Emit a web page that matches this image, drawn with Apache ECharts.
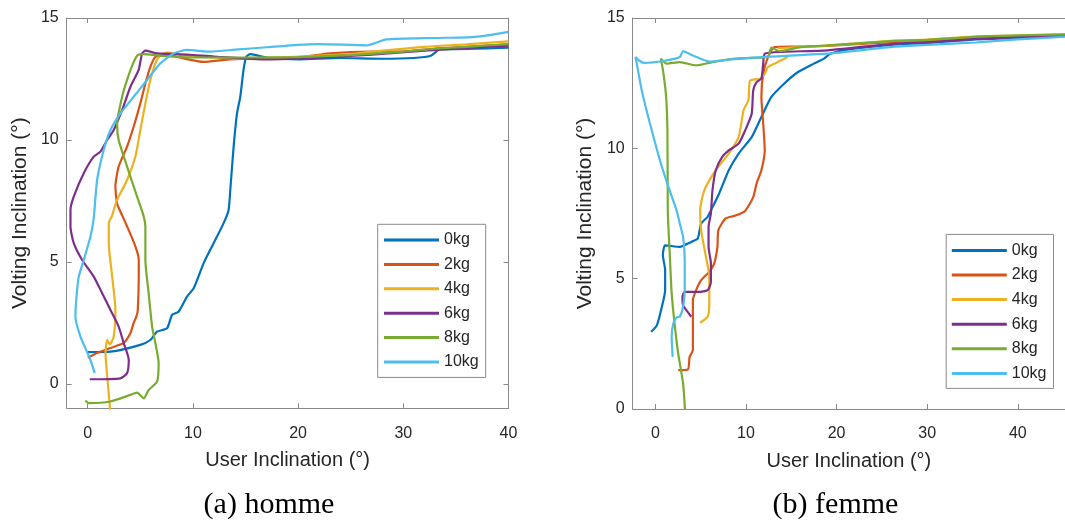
<!DOCTYPE html>
<html>
<head>
<meta charset="utf-8">
<script src="https://cdn.jsdelivr.net/npm/echarts@6/dist/echarts.min.js"></script>
<style>html,body{margin:0;padding:0;background:#fff}#c{width:1065px;height:520px}</style>
</head>
<body>
<div id="c"></div>
<script>
// ---- data ----
const names = ['0kg','2kg','4kg','6kg','8kg','10kg'];
const colors = ['#0072BD','#D95319','#EDB120','#7E2F8E','#77AC30','#4DBEEE'];
const xTicks = [0,10,20,30,40];
const yTicks = [0,5,10,15];
const captions = ['(a) homme','(b) femme'];

// (a) homme : [user inclination, volting inclination]
const homme0kg = [[-0.06,1.3],[2.16,1.32],[5.0,1.6],[5.95,1.8],[6.59,2.14],[7.54,2.28],[8.02,2.83],[8.64,2.96],[9.44,3.58],[10.07,3.92],[11.02,4.95],[11.97,5.77],[12.92,6.59],[13.39,7.13],[13.55,7.95],[13.87,9.73],[14.19,11.09],[14.5,11.77],[14.81,12.87],[15.07,13.41],[15.45,13.52],[17,13.38],[20,13.3],[24,13.36],[28,13.33],[31,13.36],[32.6,13.45],[33.5,13.72],[36,13.73],[40,13.78]];
const homme2kg = [[0.01,1.07],[0.89,1.27],[2.14,1.47],[3.42,1.68],[4.06,2.09],[4.37,2.5],[4.63,2.77],[4.76,3.04],[4.85,4.41],[4.85,5.09],[4.53,5.64],[3.74,6.46],[3.04,7.13],[2.79,7.4],[2.63,8.09],[2.94,8.91],[3.74,9.73],[4.37,10.55],[5.0,11.5],[5.48,12.32],[5.95,13.0],[6.43,13.41],[7.5,13.5],[9,13.35],[11,13.2],[13,13.28],[15,13.33],[20,13.38],[23,13.55],[27,13.62],[30,13.62],[33,13.75],[36,13.82],[40,13.92]];
const homme4kg = [[2.14,-1.1],[1.85,0.31],[1.69,1.27],[1.85,1.8],[2.1,1.62],[2.47,1.95],[2.63,3.04],[2.32,4.41],[2.0,5.78],[2.0,6.6],[2.32,6.9],[2.47,7.13],[2.79,7.54],[3.74,8.36],[4.53,9.32],[5.0,10.41],[5.48,11.5],[5.95,12.46],[6.43,13.14],[6.9,13.48],[7.54,13.58],[9,13.48],[12,13.38],[15,13.33],[20,13.42],[25,13.52],[28,13.66],[32,13.82],[36,13.92],[40,14.04]];
const homme6kg = [[0.19,0.19],[3.1,0.23],[3.74,0.44],[3.9,0.98],[3.42,1.67],[2.94,2.35],[2.16,3.03],[1.37,3.72],[0.57,4.4],[-0.53,5.08],[-1.33,5.77],[-1.64,6.45],[-1.64,7.13],[-1.33,7.68],[-0.38,8.64],[0.57,9.32],[1.21,9.52],[1.84,10.0],[2.47,10.41],[3.27,11.23],[4.06,12.18],[4.84,12.87],[5.17,13.55],[5.48,13.66],[6.59,13.55],[9.5,13.5],[12,13.42],[17,13.3],[22,13.37],[27,13.5],[32,13.66],[36,13.77],[40,13.87]];
const homme8kg = [[-0.22,-0.68],[0.1,-0.79],[2.16,-0.72],[4.05,-0.45],[4.69,-0.36],[5.32,-0.59],[5.79,-0.25],[6.59,0.09],[6.74,0.85],[6.43,1.67],[6.12,2.35],[5.79,3.72],[5.48,5.08],[5.48,6.45],[5.3,6.9],[4.69,7.68],[3.74,8.91],[2.94,10.0],[2.79,10.68],[3.27,11.77],[3.74,12.46],[4.31,13.14],[4.75,13.48],[5.32,13.52],[7,13.45],[10,13.38],[15,13.38],[20,13.4],[25,13.48],[30,13.62],[33,13.74],[36,13.82],[40,13.93]];
const homme10kg = [[0.66,0.44],[0.26,0.98],[-0.69,1.94],[-1.17,2.76],[-1.07,3.58],[-0.85,4.4],[-0.38,5.08],[0.26,6.04],[0.57,6.8],[0.89,8.36],[1.52,9.59],[2.16,10.41],[3.11,11.09],[4.37,11.77],[5.64,12.46],[6.9,13.14],[8.17,13.55],[9.44,13.69],[11.65,13.62],[14,13.7],[17,13.8],[20,13.9],[22,13.93],[26.5,13.88],[28.4,14.12],[33,14.18],[36.5,14.22],[38.5,14.32],[40,14.43]];

// (b) femme
const femme0kg = [[-0.47,2.96],[0.18,3.22],[0.72,3.92],[1.08,4.56],[1.08,5.33],[0.83,5.9],[1.08,6.28],[2.7,6.22],[3.96,6.41],[4.68,6.54],[5.05,7.11],[5.77,7.37],[6.13,7.62],[7.03,8.26],[8.1,9.16],[9.19,9.8],[10.63,10.43],[11.7,11.2],[12.8,11.97],[14.2,12.48],[15.7,12.92],[17.5,13.25],[18.6,13.44],[19.3,13.63],[21,13.78],[26.4,13.98],[30,14.04],[35.4,14.18],[40,14.24],[45.2,14.3]];
const femme2kg = [[2.52,1.49],[3.6,1.52],[3.78,2.0],[4.14,2.26],[4.14,3.28],[4.14,4.18],[4.5,4.56],[5.05,4.94],[5.95,5.26],[6.49,5.58],[6.85,6.22],[6.95,6.86],[7.75,7.31],[8.83,7.42],[9.9,7.6],[10.8,8.13],[11.17,8.65],[11.7,9.16],[12.07,9.92],[11.9,10.95],[11.7,11.97],[11.9,12.86],[12.43,13.5],[13.15,13.88],[15.3,13.9],[19,13.93],[26.4,14.08],[30,14.12],[35.4,14.25],[40,14.3],[45.2,14.34]];
const femme4kg = [[4.94,3.31],[5.77,3.54],[5.95,4.05],[5.95,5.07],[5.51,5.97],[5.05,6.86],[4.94,7.62],[5.4,8.39],[6.67,9.16],[8.1,9.8],[9.19,10.43],[9.73,11.46],[10.27,11.84],[10.45,12.6],[11.53,12.67],[12.07,12.86],[12.43,13.12],[13.5,13.31],[14.6,13.5]];
const femme4kgTop = [[13.5,13.84],[19,13.94],[26.4,14.13],[30,14.17],[35.4,14.3],[40,14.32],[45.2,14.37]];
const femme6kg = [[3.96,3.54],[3.42,3.79],[3.06,3.98],[2.99,4.3],[3.24,4.49],[4.5,4.49],[5.77,4.56],[6.13,4.88],[6.13,5.58],[5.87,6.22],[5.87,6.99],[6.13,7.5],[6.3,8.39],[6.67,9.16],[7.38,9.67],[8.1,9.92],[9.19,10.18],[9.91,10.69],[10.63,11.33],[10.8,12.22],[11.17,12.54],[11.7,12.67],[11.9,13.25],[12.07,13.63],[14,13.7],[19,13.76],[26.4,14.02],[30,14.07],[35.4,14.2],[40,14.27],[45.2,14.31]];
const femme8kg = [[3.27,-0.05],[3.06,0.98],[2.52,2.13],[2.16,3.15],[1.8,4.43],[1.62,5.71],[1.44,6.98],[1.37,7.62],[1.33,10.69],[1.19,11.97],[0.9,12.86],[0.61,13.44],[1.26,13.25],[2.7,13.31],[4.5,13.18],[6.31,13.31],[8.83,13.44],[12.43,13.52],[12.8,13.86],[13.7,13.73],[16,13.88],[19,13.95],[26.4,14.12],[30,14.16],[35.4,14.28],[40,14.33],[45.2,14.37]];
const femme10kg = [[1.91,2.0],[1.8,2.77],[1.98,3.28],[2.34,3.51],[2.7,3.54],[3.06,3.92],[3.24,4.56],[3.24,5.71],[3.06,6.6],[2.7,7.11],[2.34,7.62],[1.2,8.77],[0.4,9.67],[-0.6,10.95],[-1.5,12.22],[-2.05,13.25],[-2.2,13.5],[-1.8,13.37],[-1.26,13.28],[0.9,13.35],[2.7,13.5],[3.06,13.73],[4.14,13.56],[5.95,13.33],[8.1,13.4],[11.7,13.5],[18.9,13.63],[26.4,13.9],[30,13.97],[35.4,14.06],[40,14.18],[45.2,14.28]];

// ---- chart ----
const textColor = '#262626';
const axisColor = '#8a8a8a';
const sansFont = '"Liberation Sans", Arial, sans-serif';

function xAxisDef(gi, min, max, top) {
  return {
    type: 'value', gridIndex: gi, position: top ? 'top' : 'bottom', min: min, max: max,
    axisLine: { show: true, onZero: false, lineStyle: { color: axisColor, width: 1 } },
    axisTick: { show: true, inside: true, length: 5, customValues: xTicks, lineStyle: { color: axisColor } },
    axisLabel: { show: !top, customValues: xTicks, margin: 17, fontSize: 16, color: textColor, fontFamily: sansFont },
    splitLine: { show: false },
    name: top ? '' : 'User Inclination (°)', nameLocation: 'middle', nameGap: 42,
    nameTextStyle: { fontSize: 20, color: textColor, fontFamily: sansFont }
  };
}
function yAxisDef(gi, min, max, right, gap, visible) {
  return {
    type: 'value', gridIndex: gi, position: right ? 'right' : 'left', min: min, max: max, show: visible,
    axisLine: { show: true, onZero: false, lineStyle: { color: axisColor, width: 1 } },
    axisTick: { show: true, inside: true, length: 5, customValues: yTicks, lineStyle: { color: axisColor } },
    axisLabel: { show: !right, customValues: yTicks, margin: 8, fontSize: 16, color: textColor, fontFamily: sansFont },
    splitLine: { show: false },
    name: right ? '' : 'Volting Inclination (°)', nameLocation: 'middle', nameGap: gap,
    nameTextStyle: { fontSize: 21, color: textColor, fontFamily: sansFont }
  };
}
function line(name, color, data, gi) {
  return {
    type: 'line', name: name, xAxisIndex: gi * 2, yAxisIndex: gi * 2, data: data,
    showSymbol: false, symbol: 'none', smooth: 0.2, clip: true,
    lineStyle: { color: color, width: 2.2 }, itemStyle: { color: color }
  };
}
function legendDef(left, top, gap, padding) {
  return {
    data: names, left: left, top: top, orient: 'vertical', icon: 'rect',
    itemWidth: 55, itemHeight: 3, itemGap: gap, padding: padding,
    borderColor: axisColor, borderWidth: 1, backgroundColor: '#fff', selectedMode: false,
    textStyle: { fontSize: 16, color: textColor, fontFamily: sansFont, lineHeight: 16 }
  };
}

const hommeData = [homme0kg, homme2kg, homme4kg, homme6kg, homme8kg, homme10kg];
const femmeData = [femme0kg, femme2kg, femme4kg, femme6kg, femme8kg, femme10kg];
const series = [];
names.forEach((n, i) => series.push(line(n, colors[i], hommeData[i], 0)));
names.forEach((n, i) => {
  series.push(line(n, colors[i], femmeData[i], 1));
  if (i === 2) series.push(line(n, colors[i], femme4kgTop, 1));
});

const chart = echarts.init(document.getElementById('c'), null, { renderer: 'canvas' });
chart.setOption({
  animation: false,
  backgroundColor: '#fff',
  grid: [
    { left: 66.7, top: 18, width: 441.8, height: 390.3 },
    { left: 632.7, top: 18, width: 441.8, height: 391 }
  ],
  xAxis: [
    xAxisDef(0, -2, 40, false), xAxisDef(0, -2, 40, true),
    xAxisDef(1, -2.5, 45.2, false), xAxisDef(1, -2.5, 45.2, true)
  ],
  yAxis: [
    yAxisDef(0, -1, 15, false, 36, true), yAxisDef(0, -1, 15, true, 0, true),
    yAxisDef(1, 0, 15, false, 37, true), yAxisDef(1, 0, 15, true, 0, false)
  ],
  legend: [
    legendDef(377.7, 224.3, 8.4, [7.7, 7, 7.4, 6.3]),
    legendDef(946.2, 234.4, 8.6, [8, 7, 7, 5.6])
  ],
  graphic: [
    { type: 'text', x: 269, y: 505, style: { text: captions[0], align: 'center', verticalAlign: 'middle', fontSize: 30, fontFamily: '"Liberation Serif", "Times New Roman", serif', fill: '#000' } },
    { type: 'text', x: 835.5, y: 505, style: { text: captions[1], align: 'center', verticalAlign: 'middle', fontSize: 30, fontFamily: '"Liberation Serif", "Times New Roman", serif', fill: '#000' } }
  ],
  series: series
});
</script>
</body>
</html>
